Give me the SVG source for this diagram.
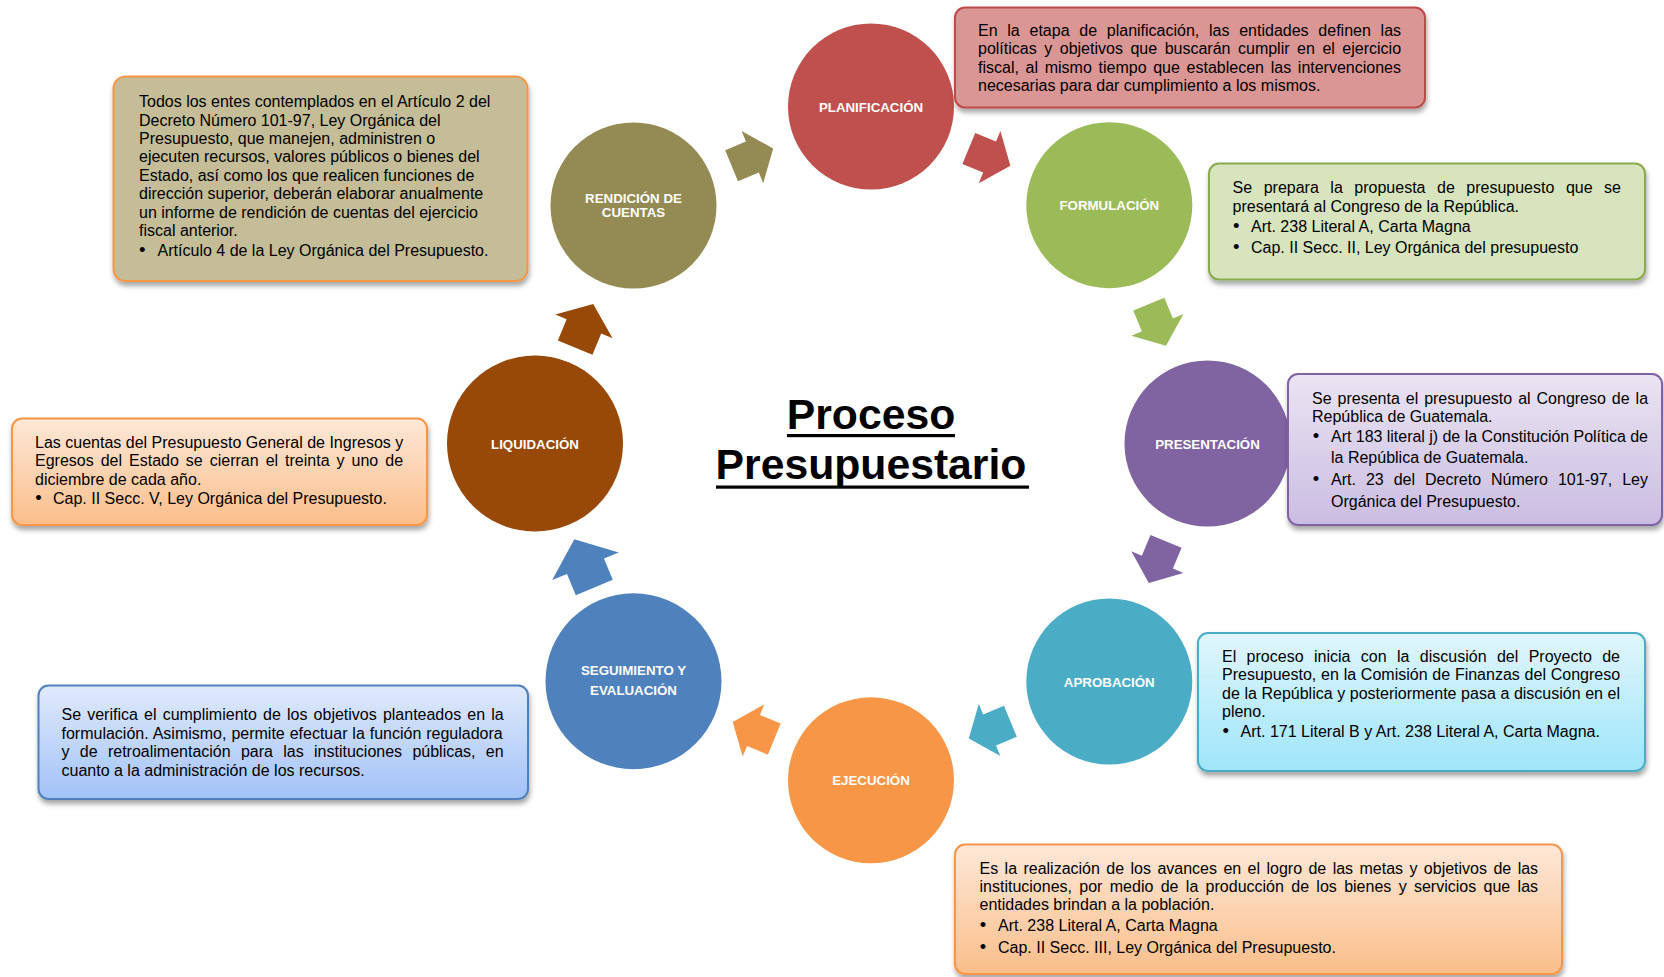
<svg xmlns="http://www.w3.org/2000/svg" xmlns:xlink="http://www.w3.org/1999/xlink" width="1664" height="977" viewBox="0 0 1664 977">
<style>
.lbl{font-family:"Liberation Sans",Arial,sans-serif;font-weight:bold;font-size:13.3px;fill:#fff;text-anchor:middle}
.t{font-family:"Liberation Sans",Arial,sans-serif;font-size:16px;fill:#000}
.b{text-anchor:middle;font-size:18.5px}
.title{font-family:"Liberation Sans",Arial,sans-serif;font-weight:bold;font-size:42.7px;fill:#000;text-anchor:middle}
.box{stroke-width:2;filter:url(#sh)}
</style>
<defs>
<filter id="sh" x="-5%" y="-10%" width="110%" height="130%">
<feDropShadow dx="1" dy="4" stdDeviation="2.5" flood-color="#000" flood-opacity="0.35"/>
</filter>
<path id="arr" d="M-22.5,-16.8 H0 V-28.2 L22.5,0 L0,28.2 V16.8 H-22.5 Z"/>
<path id="arrL" d="M-26.1,-20 H-3.1 V-36 L26.1,0 L-3.1,36 V20 H-26.1 Z"/>
<path id="arrM" d="M-23.6,-18.7 H-0.7 V-31 L23.6,0 L-0.7,31 V18.7 H-23.6 Z"/>
<linearGradient id="gPur" x1="0" y1="0" x2="0" y2="1"><stop offset="0" stop-color="#EAE4F2"/><stop offset="1" stop-color="#CBBDE2"/></linearGradient>
<linearGradient id="gCya" x1="0" y1="0" x2="0" y2="1"><stop offset="0" stop-color="#E1F6FC"/><stop offset="1" stop-color="#9FE5FA"/></linearGradient>
<linearGradient id="gOra" x1="0" y1="0" x2="0" y2="1"><stop offset="0" stop-color="#FDE8D8"/><stop offset="1" stop-color="#FBBE8A"/></linearGradient>
<linearGradient id="gBlu" x1="0" y1="0" x2="0" y2="1"><stop offset="0" stop-color="#E0EAFC"/><stop offset="1" stop-color="#A2C2F7"/></linearGradient>
</defs>
<rect width="1664" height="977" fill="#fff"/>

<g id="connectors">
<use href="#arr" transform="translate(989.6,157.1) rotate(22.5)" fill="#C0504D"/>
<use href="#arr" transform="translate(1157.4,324.9) rotate(67.5)" fill="#9BBB59"/>
<use href="#arr" transform="translate(1157.4,562.1) rotate(112.5)" fill="#8064A2"/>
<use href="#arr" transform="translate(989.6,729.9) rotate(157.5)" fill="#4BACC6"/>
<use href="#arr" transform="translate(753.5,730.5) rotate(202.5)" fill="#F79646"/>
<use href="#arrL" transform="translate(584.3,563.4) rotate(247.5)" fill="#4F81BD"/>
<use href="#arrM" transform="translate(584.2,325.8) rotate(292.5)" fill="#984807"/>
<use href="#arr" transform="translate(752.4,157.1) rotate(337.5)" fill="#948A54"/>
</g>

<g id="n-planificacion"><circle cx="871" cy="106.5" r="83" fill="#C0504D"/><text class="lbl" x="871" y="111.5">PLANIFICACIÓN</text></g>
<g id="n-formulacion"><circle cx="1109.3" cy="205.2" r="83" fill="#9BBB59"/><text class="lbl" x="1109.3" y="210">FORMULACIÓN</text></g>
<g id="n-presentacion"><circle cx="1207.5" cy="443.5" r="83" fill="#8064A2"/><text class="lbl" x="1207.5" y="448.5">PRESENTACIÓN</text></g>
<g id="n-aprobacion"><circle cx="1109.3" cy="681.5" r="83" fill="#4BACC6"/><text class="lbl" x="1109.3" y="686.5">APROBACIÓN</text></g>
<g id="n-ejecucion"><circle cx="871" cy="780.3" r="83" fill="#F79646"/><text class="lbl" x="871" y="785.3">EJECUCIÓN</text></g>
<g id="n-seguimiento"><circle cx="633.5" cy="681.3" r="88" fill="#4F81BD"/><text class="lbl" x="633.5" y="675">SEGUIMIENTO Y</text><text class="lbl" x="633.5" y="694.5">EVALUACIÓN</text></g>
<g id="n-liquidacion"><circle cx="535" cy="443.5" r="88" fill="#984807"/><text class="lbl" x="535" y="448.5">LIQUIDACIÓN</text></g>
<g id="n-rendicion"><circle cx="633.5" cy="205.5" r="83" fill="#948A54"/><text class="lbl" x="633.5" y="202.5">RENDICIÓN DE</text><text class="lbl" x="633.5" y="216.5">CUENTAS</text></g>

<g id="title">
<text class="title" x="871" y="429">Proceso</text>
<text class="title" x="871" y="479">Presupuestario</text>
<rect x="787" y="434" width="168" height="3.2" fill="#000"/>
<rect x="716" y="485.5" width="313" height="3.2" fill="#000"/>
</g>

<g id="box-planificacion">
<rect class="box" x="955" y="7.5" width="470" height="100" rx="10" fill="#DA9694" stroke="#BE4B48"/>
<text class="t" x="978" y="36" word-spacing="5.29">En la etapa de planificación, las entidades definen las</text>
<text class="t" x="978" y="54.4" word-spacing="3.08">políticas y objetivos que buscarán cumplir en el ejercicio</text>
<text class="t" x="978" y="72.8" word-spacing="2.24">fiscal, al mismo tiempo que establecen las intervenciones</text>
<text class="t" x="978" y="91.2">necesarias para dar cumplimiento a los mismos.</text>
</g>

<g id="box-formulacion">
<rect class="box" x="1209" y="163.5" width="436" height="116" rx="10" fill="#D7E4BD" stroke="#8AAB4C"/>
<text class="t" x="1232.6" y="193.3" word-spacing="7.07">Se prepara la propuesta de presupuesto que se</text>
<text class="t" x="1232.6" y="211.5">presentará al Congreso de la República.</text>
<text class="t b" x="1236.3" y="231.5">•</text>
<text class="t" x="1251" y="231.5">Art. 238 Literal A, Carta Magna</text>
<text class="t b" x="1236.3" y="253">•</text>
<text class="t" x="1251" y="253">Cap. II Secc. II, Ley Orgánica del presupuesto</text>
</g>

<g id="box-presentacion">
<rect class="box" x="1288" y="374" width="374" height="151" rx="10" fill="url(#gPur)" stroke="#8064A2"/>
<text class="t" x="1312" y="404" word-spacing="1.5">Se presenta el presupuesto al Congreso de la</text>
<text class="t" x="1312" y="422.4">República de Guatemala.</text>
<text class="t b" x="1316" y="441.5">•</text>
<text class="t" x="1331" y="441.5" textLength="317" lengthAdjust="spacing">Art 183 literal j) de la Constitución Política de</text>
<text class="t" x="1331" y="462.5">la República de Guatemala.</text>
<text class="t b" x="1316" y="484.5">•</text>
<text class="t" x="1331" y="484.5" word-spacing="5.55">Art. 23 del Decreto Número 101-97, Ley</text>
<text class="t" x="1331" y="507">Orgánica del Presupuesto.</text>
</g>

<g id="box-aprobacion">
<rect class="box" x="1198" y="633" width="447" height="138" rx="10" fill="url(#gCya)" stroke="#4BACC6"/>
<text class="t" x="1222" y="661.5" word-spacing="5.95">El proceso inicia con la discusión del Proyecto de</text>
<text class="t" x="1222" y="680" word-spacing="0.33">Presupuesto, en la Comisión de Finanzas del Congreso</text>
<text class="t" x="1222" y="699" word-spacing="0.15">de la República y posteriormente pasa a discusión en el</text>
<text class="t" x="1222" y="717">pleno.</text>
<text class="t b" x="1225.7" y="737">•</text>
<text class="t" x="1240.6" y="737">Art. 171 Literal B y Art. 238 Literal A, Carta Magna.</text>
</g>

<g id="box-ejecucion">
<rect class="box" x="955" y="844.5" width="607" height="129.5" rx="10" fill="url(#gOra)" stroke="#F79646"/>
<text class="t" x="979.5" y="873.5" word-spacing="1.96">Es la realización de los avances en el logro de las metas y objetivos de las</text>
<text class="t" x="979.5" y="891.5" word-spacing="2.89">instituciones, por medio de la producción de los bienes y servicios que las</text>
<text class="t" x="979.5" y="910">entidades brindan a la población.</text>
<text class="t b" x="983" y="930.5">•</text>
<text class="t" x="998" y="930.5">Art. 238 Literal A, Carta Magna</text>
<text class="t b" x="983" y="952.5">•</text>
<text class="t" x="998" y="952.5">Cap. II Secc. III, Ley Orgánica del Presupuesto.</text>
</g>

<g id="box-seguimiento">
<rect class="box" x="38.5" y="685.5" width="489.5" height="113.5" rx="10" fill="url(#gBlu)" stroke="#4F81BD"/>
<text class="t" x="61.5" y="719.5" word-spacing="1.7">Se verifica el cumplimiento de los objetivos planteados en la</text>
<text class="t" x="61.5" y="738.5" word-spacing="0.47">formulación. Asimismo, permite efectuar la función reguladora</text>
<text class="t" x="61.5" y="757" word-spacing="5.86">y de retroalimentación para las instituciones públicas, en</text>
<text class="t" x="61.5" y="775.5">cuanto a la administración de los recursos.</text>
</g>

<g id="box-liquidacion">
<rect class="box" x="12" y="418.5" width="415" height="106.5" rx="10" fill="url(#gOra)" stroke="#F79646"/>
<text class="t" x="35" y="448">Las cuentas del Presupuesto General de Ingresos y</text>
<text class="t" x="35" y="466" word-spacing="2.55">Egresos del Estado se cierran el treinta y uno de</text>
<text class="t" x="35" y="484.5">diciembre de cada año.</text>
<text class="t b" x="38.5" y="504">•</text>
<text class="t" x="53" y="504">Cap. II Secc. V, Ley Orgánica del Presupuesto.</text>
</g>

<g id="box-rendicion">
<rect class="box" x="113.5" y="76.5" width="414" height="204.5" rx="12" fill="#C4BD97" stroke="#F79646"/>
<text class="t" x="139" y="107.3">Todos los entes contemplados en el Artículo 2 del</text>
<text class="t" x="139" y="125.7">Decreto Número 101-97, Ley Orgánica del</text>
<text class="t" x="139" y="144">Presupuesto, que manejen, administren o</text>
<text class="t" x="139" y="162.4">ejecuten recursos, valores públicos o bienes del</text>
<text class="t" x="139" y="180.8">Estado, así como los que realicen funciones de</text>
<text class="t" x="139" y="199.2">dirección superior, deberán elaborar anualmente</text>
<text class="t" x="139" y="217.6">un informe de rendición de cuentas del ejercicio</text>
<text class="t" x="139" y="236">fiscal anterior.</text>
<text class="t b" x="142.2" y="256">•</text>
<text class="t" x="157.6" y="256">Artículo 4 de la Ley Orgánica del Presupuesto.</text>
</g>
</svg>
